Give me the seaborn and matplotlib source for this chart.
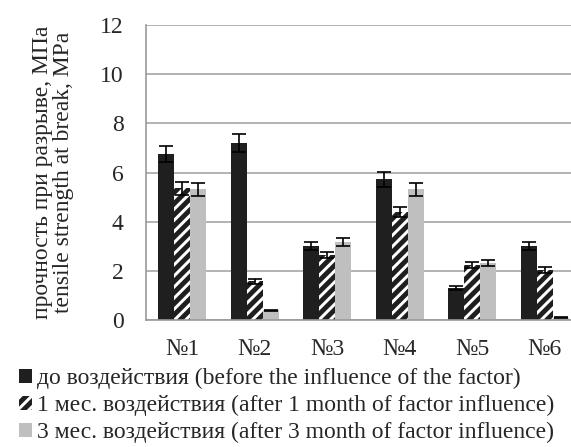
import pandas as pd
import matplotlib.pyplot as plt
import seaborn as sns

sns.set_style("white")
plt.rcParams['font.family'] = ['Liberation Serif', 'DejaVu Serif']
plt.rcParams['hatch.linewidth'] = 3.5

samples = ["№1", "№2", "№3", "№4", "№5", "№6"]
conditions = [
    "до воздействия (before the influence of the factor)",
    "1 мес. воздействия (after 1 month of factor influence)",
    "3 мес. воздействия (after 3 month of factor influence)",
]
before = [6.75, 7.2, 3.0, 5.73, 1.3, 3.0]
month1 = [5.35, 1.57, 2.65, 4.4, 2.23, 2.03]
month3 = [5.32, 0.4, 3.17, 5.32, 2.32, 0.1]
err_before = [0.33, 0.35, 0.16, 0.3, 0.08, 0.16]
err_month1 = [0.27, 0.1, 0.13, 0.2, 0.11, 0.11]
err_month3 = [0.27, 0.02, 0.18, 0.27, 0.14, 0.02]

df = pd.DataFrame({
    "sample": samples * 3,
    "condition": [conditions[0]] * 6 + [conditions[1]] * 6 + [conditions[2]] * 6,
    "value": before + month1 + month3,
})
errs = [err_before, err_month1, err_month3]

fs = 17

fig = plt.figure(figsize=(5.71, 4.47), dpi=100)
ax = fig.add_axes([146 / 571, 1 - 320 / 447, 435 / 571, 295 / 447])

sns.barplot(data=df, x="sample", y="value", hue="condition", order=samples,
            hue_order=conditions, palette=["#1f1f1f", "white", "#bfbfbf"],
            width=0.66, errorbar=None, linewidth=0, ax=ax)

bar_groups = list(ax.containers)[:3]
for i, cont in enumerate(bar_groups):
    for j, bar in enumerate(cont.patches):
        if i == 1:
            bar.set_hatch("///")
            bar.set_edgecolor("#1f1f1f")
            bar.set_linewidth(0)
        cx = bar.get_x() + bar.get_width() / 2
        ax.errorbar(cx, bar.get_height(), yerr=errs[i][j], fmt="none",
                    ecolor="black", elinewidth=1.2, capsize=5, capthick=1.2)

ax.set_ylim(0, 12)
ax.set_yticks(range(0, 13, 2))
ax.set_xlim(-0.5, 5.5)
ax.set_xticks([k - 0.5 for k in range(7)])
ax.set_xticklabels([])
ax.set_xticks(range(6), minor=True)
ax.set_xticklabels(samples, minor=True)
ax.tick_params(axis="x", which="minor", length=0, labelsize=fs, pad=14)
ax.tick_params(axis="x", which="major", length=6, color="#999999", direction="out")
ax.tick_params(axis="y", length=6, color="#999999", direction="out", labelsize=fs, pad=10)
ax.grid(axis="y", color="#a6a6a6", linewidth=1.2)
ax.set_axisbelow(True)
for s in ["top", "right"]:
    ax.spines[s].set_visible(False)
for s in ["left", "bottom"]:
    ax.spines[s].set_color("#999999")
    ax.spines[s].set_linewidth(1.2)

ax.set_xlabel("")
ax.set_ylabel("прочность при разрыве, МПа\ntensile strength at break, MPa",
              fontsize=fs, linespacing=1.0)
ax.yaxis.set_label_coords(-0.165, 0.5)

handles, labels = ax.get_legend_handles_labels()
ax.legend_.remove()
handles[1].set_hatch("///")
handles[1].set_edgecolor("#1f1f1f")
handles[1].set_linewidth(0)
fig.legend(handles, labels, loc="upper left", bbox_to_anchor=(0.033, 1 - 368 / 447),
           frameon=False, fontsize=fs, handlelength=0.55, handleheight=0.55,
           handletextpad=0.2, labelspacing=0.25, borderaxespad=0, borderpad=0)

fig.savefig("out.png", dpi=100)
